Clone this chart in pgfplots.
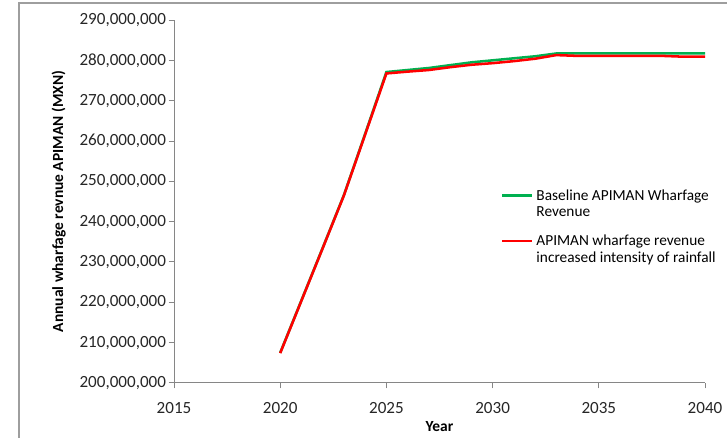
\documentclass[border=0pt]{standalone}
\usepackage{pgfplots}
\pgfplotsset{compat=1.18}
\usepackage{fontspec}
\setmainfont{Carlito}
\definecolor{exgreen}{HTML}{00B050}
\definecolor{exred}{HTML}{FF0000}
\definecolor{axgray}{HTML}{868686}
\definecolor{txt}{HTML}{262626}
\begin{document}
\begin{tikzpicture}[x=0.75pt,y=0.75pt]
\useasboundingbox (0,0) rectangle (727,438);
\draw[color=axgray!80, line width=0.9pt] (19,0) -- (19,435) -- (727,435);
\begin{axis}[
  at={(174pt*0.75,55pt*0.75)}, anchor=south west,
  scale only axis, width=531pt*0.75, height=363pt*0.75,
  xmin=2015, xmax=2040, ymin=200000000, ymax=290000000,
  xtick={2015,2020,...,2040},
  ytick={200000000,210000000,...,290000000},
  scaled y ticks=false,
  axis lines*=left,
  axis line style={color=axgray, line width=0.75pt},
  tick style={color=axgray, line width=0.75pt},
  tick align=outside, major tick length=4pt,
  xticklabel style={/pgf/number format/1000 sep={}, yshift=-7pt},
  yticklabel style={/pgf/number format/fixed, /pgf/number format/precision=0, /pgf/number format/1000 sep={,}, xshift=1.5pt},
  /pgf/number format/assume math mode=true,
  ticklabel style={font=\fontsize{12.8}{14}\selectfont, color=txt},
  xlabel={\textbf{Year}}, ylabel={\textbf{Annual wharfage revnue APIMAN (MXN)}},
  label style={font=\fontsize{11.6}{13}\selectfont, color=black},
  xlabel style={yshift=1pt},
  ylabel style={yshift=3.5pt},
  legend style={draw=none, fill=none, at={(0.608,0.548)}, anchor=north west,
    font=\fontsize{11.5}{12.5}\selectfont, row sep=8pt,
    cells={anchor=west, align=left}},
  legend image code/.code={\draw[#1, line width=2pt] (0pt,6.5pt) -- (22.5pt,6.5pt);},
]
\addplot[color=exgreen, line width=1.9pt] coordinates {
 (2020,207500000) (2021,220500000) (2022,233500000) (2023,246600000) (2024,261800000)
 (2025,277100000) (2026,277600000) (2027,278100000) (2028,278800000) (2029,279500000)
 (2030,280000000) (2031,280500000) (2032,281000000) (2033,281700000) (2034,281700000)
 (2035,281700000) (2036,281700000) (2037,281700000) (2038,281700000) (2039,281700000)
 (2040,281700000)};
\addlegendentry{Baseline APIMAN Wharfage\\Revenue}
\addplot[color=exred, line width=1.9pt] coordinates {
 (2020,207400000) (2021,220400000) (2022,233400000) (2023,246500000) (2024,261600000)
 (2025,276750000) (2026,277200000) (2027,277600000) (2028,278300000) (2029,278900000)
 (2030,279300000) (2031,279800000) (2032,280400000) (2033,281300000) (2034,281100000)
 (2035,281100000) (2036,281100000) (2037,281100000) (2038,281100000) (2039,280900000)
 (2040,280900000)};
\addlegendentry{APIMAN wharfage revenue\\increased intensity of rainfall}
\end{axis}
\end{tikzpicture}
\end{document}
